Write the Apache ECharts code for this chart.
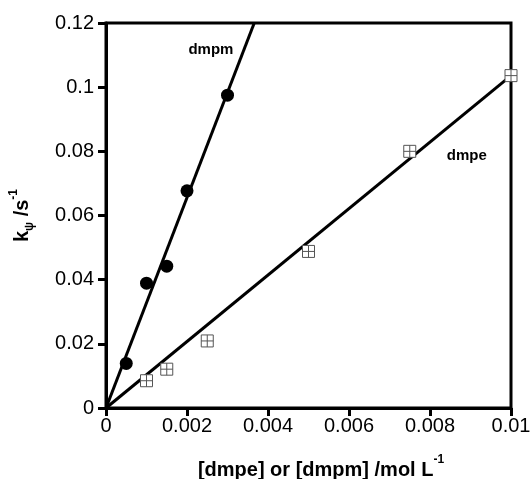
<!DOCTYPE html>
<html>
<head>
<meta charset="utf-8">
<script src="https://cdn.jsdelivr.net/npm/echarts@6/dist/echarts.min.js"></script>
<style>html,body{margin:0;padding:0;background:#fff;}#c{width:532px;height:479px;}</style>
</head>
<body>
<div id="c"></div>
<script>
// dmpm data (filled circles)
const dmpmX = [0.0005, 0.001, 0.0015, 0.002, 0.003];
const dmpmY = [0.0139, 0.0389, 0.0442, 0.0677, 0.0975];
// dmpe data (open squares with cross)
const dmpeX = [0.001, 0.0015, 0.0025, 0.005, 0.0075, 0.01];
const dmpeY = [0.0085, 0.0121, 0.0209, 0.0488, 0.0800, 0.1036];
// linear fit lines (through origin)
const dmpmFitX = [0, 0.00366];
const dmpmFitY = [0, 0.12];
const dmpeFitX = [0, 0.01];
const dmpeFitY = [0, 0.1036];
// annotation labels
const labelText = ['dmpm', 'dmpe'];
const labelX = [0.00259, 0.00891];
const labelY = [0.1115, 0.0785];
// axis ticks
const xTicks = [0, 0.002, 0.004, 0.006, 0.008, 0.01];
const yTicks = [0, 0.02, 0.04, 0.06, 0.08, 0.1, 0.12];

const zip = (a, b) => a.map((v, i) => [v, b[i]]);
const fmt = v => String(+(+v).toFixed(4));
const font = 'Liberation Sans, Arial, sans-serif';

const chart = echarts.init(document.getElementById('c'), null, {renderer: 'canvas'});
chart.setOption({
  animation: false,
  backgroundColor: '#fff',
  grid: {left: 106, right: 21, top: 23, bottom: 71, containLabel: false, outerBoundsMode: 'none',
    show: true, borderColor: '#000', borderWidth: 3, backgroundColor: 'transparent'},
  xAxis: {
    type: 'value', min: xTicks[0], max: xTicks[xTicks.length - 1], interval: 0.002,
    name: '{b|[dmpe] or [dmpm] /mol L}{sup|-1}', nameLocation: 'middle', nameGap: 46, nameMoveOverlap: false,
    nameTextStyle: {padding: [0, 0, 0, 25], rich: {
      b: {fontFamily: font, fontWeight: 'bold', fontSize: 20, color: '#000', lineHeight: 26, verticalAlign: 'bottom'},
      sup: {fontFamily: font, fontWeight: 'bold', fontSize: 12, color: '#000', lineHeight: 26, verticalAlign: 'top'}
    }},
    axisLine: {lineStyle: {color: '#000', width: 3}},
    axisTick: {show: true, inside: false, length: 8, lineStyle: {color: '#000', width: 3}},
    axisLabel: {fontFamily: font, fontSize: 20, color: '#000', margin: 8, formatter: fmt},
    splitLine: {show: false}
  },
  yAxis: {
    type: 'value', min: yTicks[0], max: yTicks[yTicks.length - 1], interval: 0.02,
    name: '{b|k}{sub|ψ}{b| /s}{sup|-1}', nameLocation: 'middle', nameGap: 70, nameRotate: 90, nameMoveOverlap: false,
    nameTextStyle: {rich: {
      b: {fontFamily: font, fontWeight: 'bold', fontSize: 20, color: '#000', lineHeight: 28, verticalAlign: 'middle'},
      sub: {fontFamily: font, fontWeight: 'bold', fontSize: 12, color: '#000', lineHeight: 28, verticalAlign: 'bottom'},
      sup: {fontFamily: font, fontWeight: 'bold', fontSize: 12, color: '#000', lineHeight: 28, verticalAlign: 'top'}
    }},
    axisLine: {lineStyle: {color: '#000', width: 3}},
    axisTick: {show: true, inside: false, length: 8, lineStyle: {color: '#000', width: 3}},
    axisLabel: {fontFamily: font, fontSize: 20, color: '#000', margin: 12, formatter: fmt},
    splitLine: {show: false}
  },
  series: [
    {type: 'line', data: zip(dmpmFitX, dmpmFitY), symbol: 'none', lineStyle: {color: '#000', width: 3}, z: 2},
    {type: 'line', data: zip(dmpeFitX, dmpeFitY), symbol: 'none', lineStyle: {color: '#000', width: 3}, z: 2},
    {type: 'scatter', data: zip(dmpmX, dmpmY), symbol: 'circle', symbolSize: 13, itemStyle: {color: '#000', opacity: 1}, z: 3},
    {type: 'scatter', data: zip(dmpeX, dmpeY),
      symbol: 'path://M0,0H10V10H0Z M5,0V10 M0,5H10', symbolSize: 12,
      itemStyle: {color: '#fff', borderColor: '#555', borderWidth: 1, opacity: 1}, z: 3},
    {type: 'scatter', data: labelX.map((x, i) => ({value: [x, labelY[i]], name: labelText[i]})),
      symbolSize: 0, silent: true, z: 4, itemStyle: {opacity: 1},
      label: {show: true, position: 'inside', formatter: p => p.name, fontFamily: font, fontWeight: 'bold', fontSize: 15, color: '#000', opacity: 1}}
  ]
});
</script>
</body>
</html>
